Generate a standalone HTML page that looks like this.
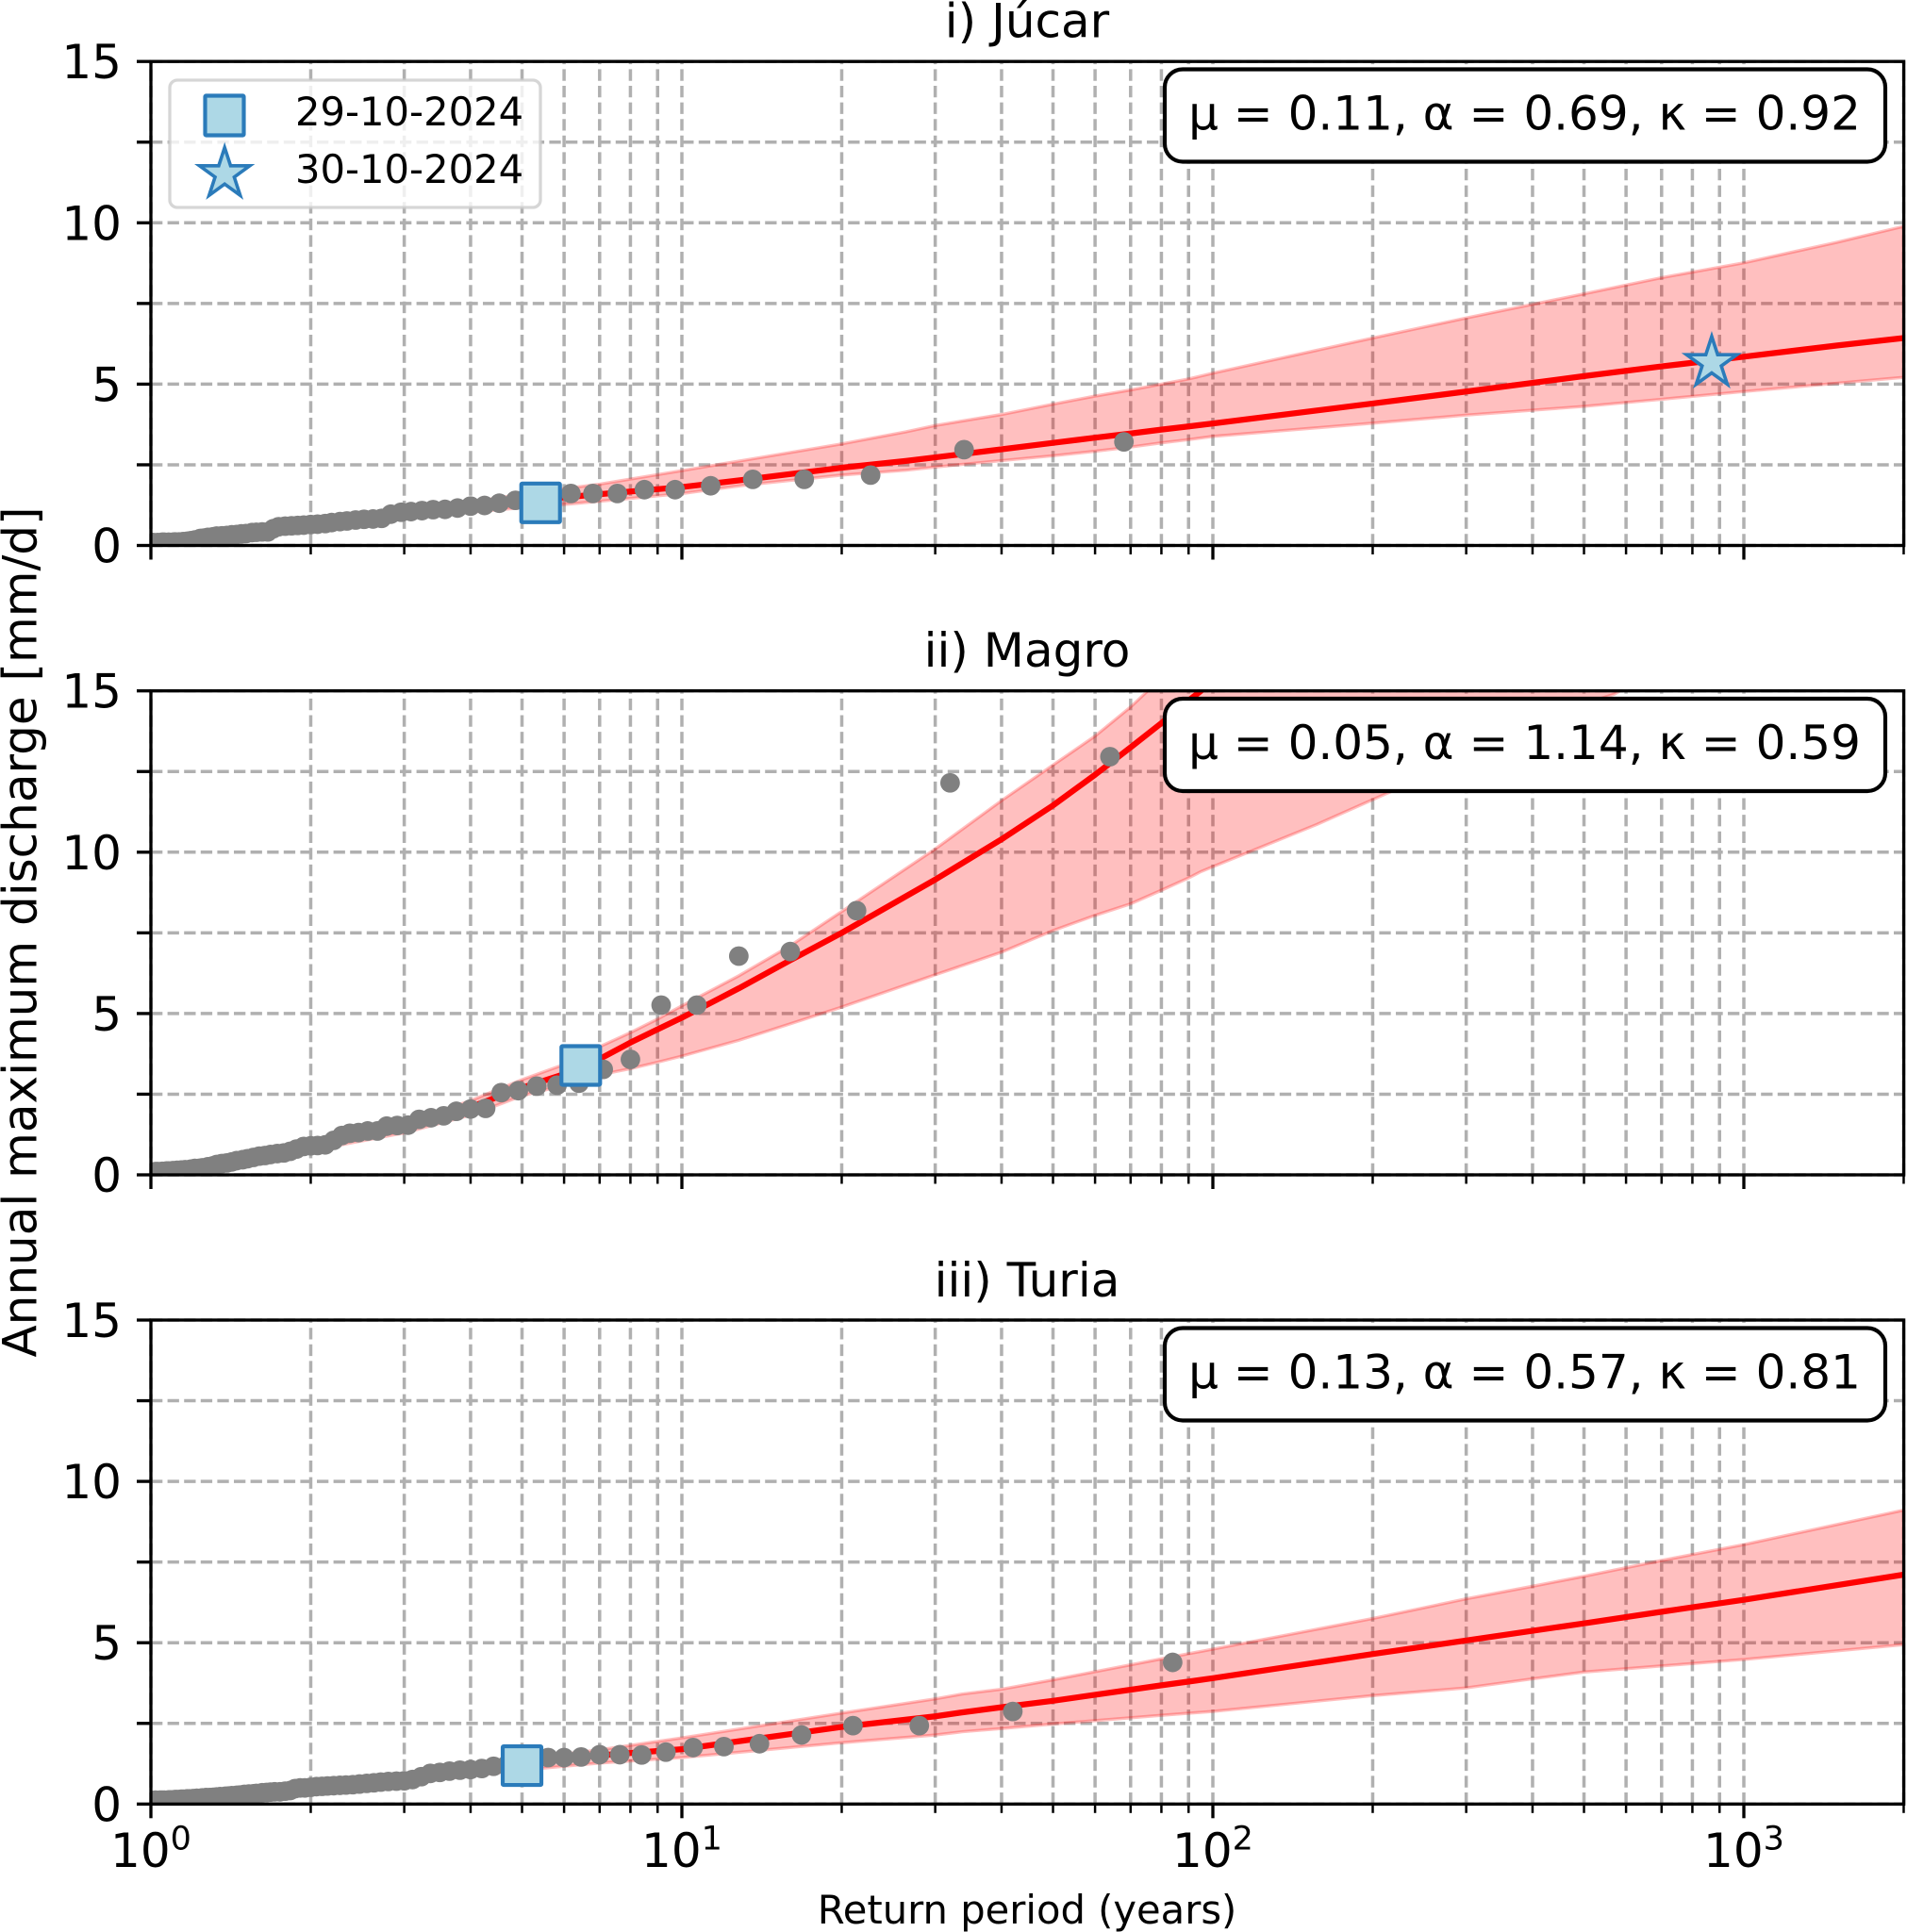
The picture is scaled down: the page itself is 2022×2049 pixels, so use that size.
<!DOCTYPE html>
<html lang="en">
<head>
<meta charset="utf-8">
<title>Annual maximum discharge vs return period</title>
<style>
html,body{margin:0;padding:0;background:#fff;}
svg{display:block;font-family:"DejaVu Sans","Liberation Sans",sans-serif;}
text{fill:#000;}
</style>
</head>
<body>
<svg id="fig" xmlns="http://www.w3.org/2000/svg" width="2022" height="2049" viewBox="0 0 2022 2049">
  <defs>
    <clipPath id="clip-0"><rect x="160" y="65.2" width="1858.6" height="513.3"/></clipPath>
    <clipPath id="clip-1"><rect x="160" y="732.7" width="1858.6" height="513.3"/></clipPath>
    <clipPath id="clip-2"><rect x="160" y="1400" width="1858.6" height="513.3"/></clipPath>
  </defs>
  <rect x="0" y="0" width="2022" height="2049" fill="#fff"/>

  <g id="panel-0">
    <g class="grid"></g>
    <g class="marks" clip-path="url(#clip-0)"></g>
    <g class="axes"></g>
    <text x="1089" y="39.5" font-size="50" text-anchor="middle">i) Júcar</text>
    <rect x="1235" y="73.5" width="764" height="98" rx="19" ry="19" fill="#fff" stroke="#000" stroke-width="4.17"/>
    <text x="1616.5" y="137.5" font-size="50" text-anchor="middle">μ = 0.11, α = 0.69, κ = 0.92</text>
    <g>
      <rect x="180" y="85" width="393" height="135" rx="8" ry="8" fill="#fff" fill-opacity="0.8" stroke="#ccc" stroke-opacity="0.8" stroke-width="3.33"/>
      <rect x="217.5" y="101.5" width="41" height="42" rx="1" fill="#add8e6" stroke="#2b7bba" stroke-width="4.17"/>
      <polygon id="legend-star" fill="#add8e6" stroke="#2b7bba" stroke-width="3.6" stroke-linejoin="miter"/>
      <text x="313" y="133" font-size="41.67">29-10-2024</text>
      <text x="313" y="194" font-size="41.67">30-10-2024</text>
    </g>
  </g>

  <g id="panel-1">
    <g class="grid"></g>
    <g class="marks" clip-path="url(#clip-1)"></g>
    <g class="axes"></g>
    <text x="1089" y="707" font-size="50" text-anchor="middle">ii) Magro</text>
    <rect x="1235" y="741" width="764" height="98" rx="19" ry="19" fill="#fff" stroke="#000" stroke-width="4.17"/>
    <text x="1616.5" y="805" font-size="50" text-anchor="middle">μ = 0.05, α = 1.14, κ = 0.59</text>
  </g>

  <g id="panel-2">
    <g class="grid"></g>
    <g class="marks" clip-path="url(#clip-2)"></g>
    <g class="axes"></g>
    <text x="1089" y="1375" font-size="50" text-anchor="middle">iii) Turia</text>
    <rect x="1235" y="1408.5" width="764" height="98" rx="19" ry="19" fill="#fff" stroke="#000" stroke-width="4.17"/>
    <text x="1616.5" y="1472.5" font-size="50" text-anchor="middle">μ = 0.13, α = 0.57, κ = 0.81</text>
  </g>

  <text transform="translate(38.5 988.5) rotate(-90)" font-size="50" text-anchor="middle">Annual maximum discharge [mm/d]</text>
  <text x="1089" y="2040" font-size="41.67" text-anchor="middle">Return period (years)</text>
</svg>

<script>
// ---- tick values and labels ----
const yTicks = [0, 2.5, 5, 7.5, 10, 12.5, 15];
const yTickLabels = ["0", "", "5", "", "10", "", "15"];
const xMajorTicks = [1, 10, 100, 1000];
const xMajorExponents = ["0", "1", "2", "3"];
const xMinorTicks = [2,3,4,5,6,7,8,9,20,30,40,50,60,70,80,90,200,300,400,500,600,700,800,900,2000];

// ---- Júcar ----
const jucarObsT = [68,34,22.67,17,13.6,11.33,9.71,8.5,7.56,6.8,6.18,5.67,5.23,4.86,4.53,4.25,4,3.78,3.58,3.4,3.24,3.09,2.96,2.83,2.72,2.62,2.52,2.43,2.34,2.27,2.19,2.13,2.06,2,1.94,1.89,1.84,1.79,1.74,1.7,1.66,1.62,1.58,1.55,1.51,1.48,1.45,1.42,1.39,1.36,1.33,1.31,1.28,1.26,1.24,1.21,1.19,1.17,1.15,1.13,1.11,1.1,1.08,1.06,1.05,1.03,1.01];
const jucarObsQ = [3.21,2.97,2.18,2.05,2.05,1.85,1.73,1.73,1.61,1.61,1.61,1.45,1.42,1.4,1.31,1.24,1.22,1.16,1.12,1.11,1.08,1.05,1.03,0.97,0.84,0.82,0.81,0.79,0.76,0.74,0.71,0.68,0.66,0.65,0.63,0.62,0.61,0.6,0.58,0.52,0.42,0.42,0.41,0.4,0.37,0.36,0.34,0.33,0.31,0.3,0.29,0.27,0.25,0.23,0.22,0.17,0.15,0.13,0.12,0.11,0.11,0.1,0.1,0.1,0.1,0.09,0.09];
const jucarCurveT = [1,2,3,5,6,7,10,13.3,20,26.4,30,40,50,60,70,80,90,100,200,300,500,700,1000,1500,2000];
const jucarMedian = [0.05,0.63,0.95,1.37,1.49,1.59,1.81,2.05,2.41,2.62,2.73,2.98,3.18,3.34,3.47,3.59,3.69,3.78,4.4,4.77,5.25,5.55,5.85,6.2,6.43];
const jucarUpper  = [0.06,0.68,1.05,1.58,1.76,1.9,2.32,2.66,3.15,3.52,3.72,4.06,4.38,4.63,4.82,5,5.16,5.34,6.43,7.05,7.8,8.3,8.76,9.4,9.89];
const jucarLower  = [0.04,0.58,0.85,1.17,1.27,1.37,1.61,1.88,2.18,2.33,2.43,2.63,2.78,2.92,3.05,3.18,3.28,3.38,3.79,4.04,4.31,4.53,4.77,5.03,5.21];
const jucarSquare = [5.42, 1.32];
const jucarStar = [870, 5.66];

// ---- Magro ----
const magroObsT = [64,32,21.33,16,12.8,10.67,9.14,8,7.11,6.4,5.82,5.33,4.92,4.57,4.27,4,3.76,3.56,3.37,3.2,3.05,2.91,2.78,2.67,2.56,2.46,2.37,2.29,2.21,2.13,2.06,2,1.94,1.88,1.83,1.78,1.73,1.68,1.64,1.6,1.56,1.52,1.49,1.45,1.42,1.39,1.36,1.33,1.31,1.28,1.25,1.23,1.21,1.19,1.16,1.14,1.12,1.1,1.08,1.07,1.05,1.03,1.02];
const magroObsQ = [12.96,12.15,8.19,6.92,6.78,5.26,5.26,3.58,3.27,2.84,2.78,2.75,2.61,2.55,2.06,2.04,1.97,1.83,1.77,1.72,1.54,1.53,1.51,1.36,1.36,1.31,1.29,1.22,1.07,0.93,0.91,0.9,0.88,0.8,0.73,0.68,0.66,0.63,0.6,0.58,0.54,0.5,0.47,0.44,0.4,0.37,0.35,0.32,0.28,0.25,0.22,0.2,0.2,0.18,0.16,0.15,0.14,0.13,0.12,0.12,0.11,0.1,0.1];
const magroCurveT = [1,1.5,2,3,4,5,6,7,8,9,10,12.8,16,20,30,40,50,60,70,80,90,95,100,157,218,300,400,500,571,700,2000];
const magroMedian = [0.02,0.38,0.85,1.45,2.1,2.7,3.12,3.59,4.1,4.51,4.87,5.78,6.65,7.5,9.15,10.4,11.45,12.4,13.25,14,14.7,15,15.4,19,22,25,28,31,33,36,60];
const magroUpper  = [0.03,0.4,0.95,1.6,2.3,2.95,3.42,3.97,4.41,4.83,5.24,6.17,7.1,8.16,10.1,11.6,12.7,13.6,14.5,15.4,16.4,17,17.5,22,26,30,34,38,40,44,75];
const magroLower  = [0.01,0.35,0.75,1.3,1.85,2.45,2.78,3.1,3.29,3.49,3.68,4.17,4.68,5.2,6.2,6.9,7.57,8.04,8.4,8.82,9.2,9.4,9.55,10.86,11.9,12.95,13.9,14.6,14.9,15.8,22];
const magroSquare = [6.45, 3.39];

// ---- Turia ----
const turiaObsT = [84,42,28,21,16.8,14,12,10.5,9.33,8.4,7.64,7,6.46,6,5.6,5.25,4.94,4.67,4.42,4.2,4,3.82,3.65,3.5,3.36,3.23,3.11,3,2.9,2.8,2.71,2.63,2.55,2.47,2.4,2.33,2.27,2.21,2.15,2.1,2.05,2,1.95,1.91,1.87,1.83,1.79,1.75,1.71,1.68,1.65,1.62,1.58,1.56,1.53,1.5,1.47,1.45,1.42,1.4,1.38,1.35,1.33,1.31,1.29,1.27,1.25,1.24,1.22,1.2,1.18,1.17,1.15,1.14,1.12,1.11,1.09,1.08,1.06,1.05,1.04,1.02,1.01];
const turiaObsQ = [4.39,2.87,2.43,2.43,2.14,1.87,1.78,1.75,1.61,1.52,1.53,1.53,1.46,1.44,1.44,1.4,1.25,1.2,1.17,1.1,1.07,1.05,1.02,0.98,0.95,0.85,0.76,0.72,0.71,0.7,0.68,0.66,0.64,0.62,0.6,0.59,0.58,0.57,0.56,0.55,0.54,0.52,0.5,0.5,0.48,0.42,0.4,0.38,0.38,0.37,0.36,0.35,0.33,0.32,0.31,0.3,0.28,0.27,0.26,0.25,0.24,0.23,0.22,0.21,0.2,0.2,0.19,0.18,0.18,0.17,0.16,0.16,0.15,0.15,0.14,0.14,0.13,0.13,0.12,0.12,0.12,0.12,0.11];
const turiaCurveT = [1,2,3,5,6,7,10,20,30,33.7,40,50,80,100,200,300,400,500,700,1000,2000];
const turiaMedian = [0.05,0.5,0.75,1.25,1.41,1.51,1.7,2.39,2.72,2.84,3,3.2,3.68,3.9,4.65,5.07,5.37,5.6,5.96,6.33,7.11];
const turiaUpper  = [0.06,0.55,0.8,1.38,1.55,1.68,2.05,2.82,3.26,3.41,3.56,3.85,4.5,4.8,5.75,6.36,6.75,7.06,7.55,8.04,9.11];
const turiaLower  = [0.04,0.42,0.65,1.05,1.17,1.27,1.44,1.9,2.14,2.24,2.34,2.48,2.75,2.87,3.36,3.6,3.88,4.09,4.28,4.48,4.94];
const turiaSquare = [5.0, 1.19];

// ---- layout ----
const panelTops = [65.2, 732.7, 1400];
const plotHeight = 513.3;
const plotLeft = 160;
const plotRight = 2018.6;
const decadeWidth = 563;
const yMax = 15;

function xScale(t) { return plotLeft + Math.log10(t) * decadeWidth; }
function yScale(q, top) { return top + plotHeight - (q / yMax) * plotHeight; }
function make(tag, parent) {
  const node = document.createElementNS('http://www.w3.org/2000/svg', tag);
  parent.appendChild(node);
  return node;
}
function setAll(node, props) {
  for (const k in props) node.setAttribute(k, props[k]);
}
function curvePoints(ts, qs, top) {
  return ts.map(function (t, i) { return xScale(t).toFixed(2) + ',' + yScale(qs[i], top).toFixed(2); });
}
function starPoints(cx, cy, R) {
  const r = R * 0.381966;
  const pts = [];
  for (let i = 0; i < 10; i++) {
    const a = -Math.PI / 2 + i * Math.PI / 5;
    const rad = i % 2 ? r : R;
    pts.push((cx + rad * Math.cos(a)).toFixed(2) + ',' + (cy + rad * Math.sin(a)).toFixed(2));
  }
  return pts.join(' ');
}

function drawGrid(group, top) {
  const bottom = top + plotHeight;
  const dashed = { stroke: '#b0b0b0', 'stroke-width': 3.5, 'stroke-dasharray': '12.3 5.3', fill: 'none' };
  yTicks.forEach(function (v) {
    const ln = make('line', group);
    
    
    setAll(ln, dashed);
    setAll(ln, { x1: plotLeft, x2: plotRight, y1: yScale(v, top), y2: yScale(v, top) });
  });
  xMajorTicks.concat(xMinorTicks).forEach(function (v) {
    const ln = make('line', group);
    
    
    setAll(ln, dashed);
    setAll(ln, { x1: xScale(v), x2: xScale(v), y1: bottom, y2: top });
  });
}

function drawAxes(group, top, showXLabels) {
  const bottom = top + plotHeight;
  xMinorTicks.forEach(function (v) {
    const t = make('line', group);
    
    
    setAll(t, { x1: xScale(v), x2: xScale(v), y1: bottom, y2: bottom + 9.5, stroke: '#000', 'stroke-width': 2.5 });
  });
  xMajorTicks.forEach(function (v, i) {
    const t = make('line', group);
    
    
    setAll(t, { x1: xScale(v), x2: xScale(v), y1: bottom, y2: bottom + 15, stroke: '#000', 'stroke-width': 3.33 });
    if (showXLabels) {
      const lab = make('text', group);
      
      
      setAll(lab, { x: xScale(v), y: 1980, 'font-size': 50, 'text-anchor': 'middle' });
      lab.appendChild(document.createTextNode('10'));
      const sup = make('tspan', lab);
      setAll(sup, { dy: -18.5, 'font-size': 35 });
      sup.textContent = xMajorExponents[i];
    }
  });
  yTicks.forEach(function (v, i) {
    const t = make('line', group);
    
    
    setAll(t, { x1: plotLeft - 15, x2: plotLeft, y1: yScale(v, top), y2: yScale(v, top), stroke: '#000', 'stroke-width': 3.33 });
    if (yTickLabels[i]) {
      const lab = make('text', group);
      
      
      setAll(lab, { x: 129, y: yScale(v, top) + 18, 'font-size': 50, 'text-anchor': 'end' });
      lab.textContent = yTickLabels[i];
    }
  });
  const frame = make('rect', group);
  
  
  setAll(frame, { x: plotLeft, y: top, width: plotRight - plotLeft, height: plotHeight, fill: 'none', stroke: '#000', 'stroke-width': 3.33 });
}

function drawMarks(group, top, cfg) {
  const band = make('polygon', group);
  
  
  const up = curvePoints(cfg.curveT, cfg.upper, top);
  const low = curvePoints(cfg.curveT, cfg.lower, top).reverse();
  setAll(band, { points: up.concat(low).join(' '), fill: '#ff0000', 'fill-opacity': 0.25, stroke: '#ff0000', 'stroke-opacity': 0.25, 'stroke-width': 3.33 });

  const line = make('polyline', group);
  
  
  setAll(line, { points: curvePoints(cfg.curveT, cfg.median, top).join(' '), fill: 'none', stroke: '#ff0000', 'stroke-width': 6.25, 'stroke-linejoin': 'round' });

  cfg.obsT.forEach(function (t, i) {
    const dot = make('circle', group);
    
    
    setAll(dot, { cx: xScale(t), cy: yScale(cfg.obsQ[i], top), r: 10.4, fill: '#808080' });
  });

  const sq = make('rect', group);
  
  
  setAll(sq, { x: xScale(cfg.square[0]) - 20.5, y: yScale(cfg.square[1], top) - 20.5, width: 41, height: 41, rx: 1, fill: '#add8e6', stroke: '#2b7bba', 'stroke-width': 4.17 });

  if (cfg.star) {
    const st = make('polygon', group);
    
    
    setAll(st, { points: starPoints(xScale(cfg.star[0]), yScale(cfg.star[1], top), 28), fill: '#add8e6', stroke: '#2b7bba', 'stroke-width': 3.6 });
  }
}

const configs = [
  { curveT: jucarCurveT, median: jucarMedian, upper: jucarUpper, lower: jucarLower, obsT: jucarObsT, obsQ: jucarObsQ, square: jucarSquare, star: jucarStar },
  { curveT: magroCurveT, median: magroMedian, upper: magroUpper, lower: magroLower, obsT: magroObsT, obsQ: magroObsQ, square: magroSquare },
  { curveT: turiaCurveT, median: turiaMedian, upper: turiaUpper, lower: turiaLower, obsT: turiaObsT, obsQ: turiaObsQ, square: turiaSquare }
];

configs.forEach(function (cfg, i) {
  const panel = document.getElementById('panel-' + i);
  const top = panelTops[i];
  drawGrid(panel.querySelector('.grid'), top);
  drawMarks(panel.querySelector('.marks'), top, cfg);
  drawAxes(panel.querySelector('.axes'), top, i === 2);
});

document.getElementById('legend-star').setAttribute('points', starPoints(238.2, 184.5, 28));
</script>
</body>
</html>
